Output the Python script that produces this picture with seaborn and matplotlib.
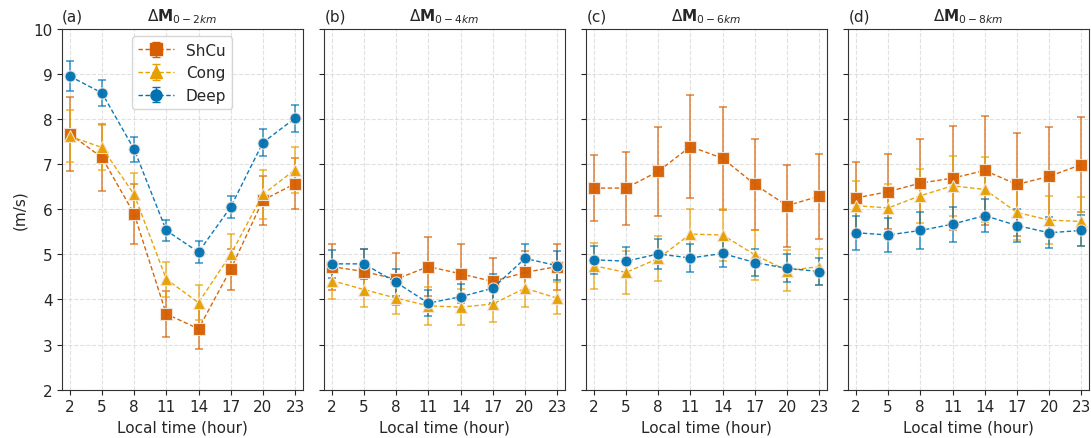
import numpy as np
import pandas as pd
import seaborn as sns
import matplotlib.pyplot as plt

# Local time (hour)
hours = [2, 5, 8, 11, 14, 17, 20, 23]
groups = ["ShCu", "Cong", "Deep"]
panel_tags = ["(a)", "(b)", "(c)", "(d)"]
layers = ["0-2km", "0-4km", "0-6km", "0-8km"]

# mean wind difference (m/s) per panel and group
shcu_mean = [
    [7.67, 7.15, 5.90, 3.68, 3.35, 4.67, 6.20, 6.57],
    [4.73, 4.62, 4.45, 4.73, 4.57, 4.40, 4.60, 4.73],
    [6.47, 6.47, 6.84, 7.39, 7.13, 6.55, 6.08, 6.29],
    [6.25, 6.39, 6.58, 6.69, 6.86, 6.55, 6.73, 6.99],
]
cong_mean = [
    [7.62, 7.37, 6.33, 4.45, 3.93, 5.00, 6.33, 6.88],
    [4.42, 4.22, 4.03, 3.86, 3.83, 3.90, 4.25, 4.03],
    [4.75, 4.60, 4.91, 5.45, 5.43, 4.99, 4.64, 4.73],
    [6.08, 6.03, 6.30, 6.52, 6.44, 5.93, 5.76, 5.73],
]
deep_mean = [
    [8.95, 8.58, 7.33, 5.53, 5.05, 6.05, 7.48, 8.02],
    [4.79, 4.79, 4.38, 3.92, 4.06, 4.25, 4.91, 4.75],
    [4.88, 4.85, 5.01, 4.92, 5.02, 4.82, 4.69, 4.62],
    [5.48, 5.43, 5.53, 5.67, 5.86, 5.64, 5.48, 5.53],
]

# half-width of the error bars
shcu_err = [
    [0.83, 0.74, 0.66, 0.51, 0.45, 0.45, 0.54, 0.57],
    [0.51, 0.50, 0.58, 0.65, 0.65, 0.51, 0.48, 0.51],
    [0.74, 0.81, 0.99, 1.14, 1.14, 1.01, 0.91, 0.94],
    [0.80, 0.83, 0.97, 1.16, 1.20, 1.14, 1.10, 1.05],
]
cong_err = [
    [0.57, 0.50, 0.48, 0.39, 0.39, 0.45, 0.54, 0.51],
    [0.42, 0.38, 0.35, 0.42, 0.40, 0.40, 0.42, 0.35],
    [0.51, 0.47, 0.49, 0.55, 0.57, 0.56, 0.45, 0.40],
    [0.55, 0.53, 0.60, 0.66, 0.72, 0.61, 0.54, 0.55],
]
deep_err = [
    [0.33, 0.29, 0.28, 0.24, 0.24, 0.25, 0.30, 0.30],
    [0.31, 0.33, 0.30, 0.28, 0.29, 0.32, 0.32, 0.32],
    [0.31, 0.32, 0.34, 0.32, 0.31, 0.30, 0.31, 0.30],
    [0.38, 0.38, 0.41, 0.39, 0.37, 0.37, 0.34, 0.34],
]

colors = {"ShCu": "#d55e00", "Cong": "#e69f00", "Deep": "#0072b2"}
markers = {"ShCu": "s", "Cong": "^", "Deep": "o"}

means = {"ShCu": shcu_mean, "Cong": cong_mean, "Deep": deep_mean}
errs = {"ShCu": shcu_err, "Cong": cong_err, "Deep": deep_err}

sns.set_style("ticks")
plt.rcParams["font.family"] = ["DejaVu Sans"]
plt.rcParams["font.size"] = 11

fig, axes = plt.subplots(1, 4, figsize=(10.91, 4.39), dpi=100, sharey=True)
fig.subplots_adjust(left=0.057, right=0.998, top=0.932, bottom=0.11, wspace=0.09)

for p, ax in enumerate(axes):
    rows = []
    for g in groups:
        for h, m, e in zip(hours, means[g][p], errs[g][p]):
            rows.append({"hour": h, "value": m, "err": e, "group": g})
    df = pd.DataFrame(rows)

    for g in groups:
        sub = df[df["group"] == g]
        ax.errorbar(sub["hour"], sub["value"], yerr=sub["err"], fmt="none",
                    ecolor=colors[g], elinewidth=1.2, capsize=3, capthick=1.2,
                    alpha=0.7, zorder=2)

    sns.lineplot(data=df, x="hour", y="value", hue="group", style="group",
                 hue_order=groups, style_order=groups, palette=colors,
                 markers=markers, dashes={g: (3.2, 1.8) for g in groups},
                 markersize=8, linewidth=1.0, markeredgewidth=0.8,
                 markeredgecolor="#f3e6dc", alpha=0.95,
                 legend=False, ax=ax, zorder=3)

    ax.grid(True, linestyle="--", color="#cccccc", alpha=0.6, linewidth=0.8)
    ax.set_xticks(hours)
    ax.set_xlim(1.3, 23.7)
    ax.set_ylim(2, 10)
    ax.set_xlabel("Local time (hour)", fontsize=11)
    ax.set_ylabel("(m/s)" if p == 0 else "", fontsize=11)
    ax.tick_params(labelsize=11)
    for s in ax.spines.values():
        s.set_color("#333333")
    ax.set_title(panel_tags[p], loc="left", fontsize=11)
    ax.set_title(r"$\Delta\mathbf{M}_{" + layers[p] + "}$", fontsize=11)

# legend entries with error bar caps, drawn from empty data
for g in groups:
    axes[0].errorbar([np.nan], [np.nan], yerr=[np.nan], fmt=markers[g],
                     linestyle=(0, (3.2, 1.8)), color=colors[g], markersize=8,
                     linewidth=1.0, capsize=3, label=g)
axes[0].legend(loc="upper center", fontsize=11, framealpha=0.8, handlelength=2.3)

fig.savefig("out.png", dpi=100)
